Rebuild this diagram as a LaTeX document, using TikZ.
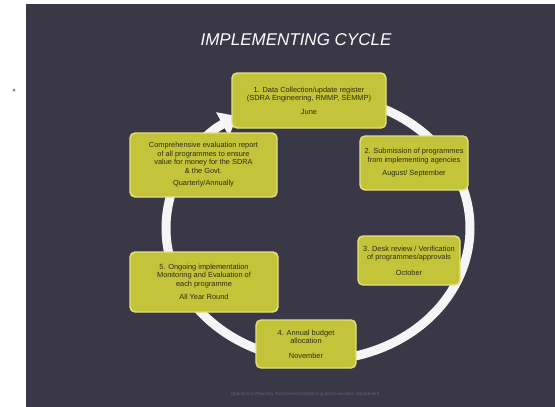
\documentclass[tikz,border=0pt]{standalone}
\usepackage{fontspec}
\setmainfont{Liberation Sans}
\usetikzlibrary{arrows.meta}
\definecolor{slidebg}{RGB}{58,56,70}
\definecolor{boxfill}{RGB}{196,196,58}
\definecolor{boxedge}{RGB}{226,226,130}
\definecolor{boxtext}{RGB}{45,44,15}
\definecolor{foot}{RGB}{100,96,112}
\tikzset{
  stagebox/.style={draw=boxedge, line width=1.4pt, fill=boxfill, rounded corners=5pt,
    text=boxtext, font=\fontsize{7.4}{8.5}\selectfont, align=center, inner sep=2pt},
  ring/.style={draw=white!92!gray, line width=9pt},
}
\begin{document}
\begin{tikzpicture}[x=1pt,y=-1pt]
\useasboundingbox (0,0) rectangle (555,407);
\fill[white] (0,0) rectangle (555,407);
\fill[slidebg] (26,4) rectangle (555,407);
\fill[gray] (14,90) circle (1.5);
\node[text=white, font=\fontsize{17}{17}\selectfont\itshape] (title) at (296,40) {IMPLEMENTING CYCLE};
% ring
\draw[ring, -{Triangle[width=26pt,length=17pt]}]
  (318,228) ++(-85:152 and 132) arc[start angle=-85, end angle=238, x radius=152, y radius=132];
% boxes
\node[stagebox, minimum width=154pt, minimum height=55pt] (s1) at (309,100.5)
  {1. Data Collection/update register\\(SDRA Engineering, RMMP, SEMMP)\\[5pt]June};
\node[stagebox, minimum width=108pt, minimum height=54pt] (s2) at (414,163)
  {2. Submission of programmes\\from implementing agencies\\[5pt]August/ September};
\node[stagebox, minimum width=102pt, minimum height=49pt] (s3) at (409,260.5)
  {3. Desk review / Verification\\of programmes/approvals\\[7pt]October};
\node[stagebox, minimum width=100pt, minimum height=48pt] (s4) at (306,344)
  {4. Annual budget\\allocation\\[6pt]November};
\node[stagebox, minimum width=148pt, minimum height=60pt] (s5) at (204,282)
  {5. Ongoing implementation\\Monitoring and Evaluation of\\each programme\\[5pt]All Year Round};
\node[stagebox, minimum width=147pt, minimum height=64pt] (s6) at (203.5,165)
  {Comprehensive evaluation report\\of all programmes to ensure\\value for money for the SDRA\\\& the Govt.\\[4pt]Quarterly/Annually};
\node[text=foot, font=\fontsize{4.5}{5}\selectfont] (footer) at (305,394)
  {Operational Planning, Performance Monitoring and Evaluation Department};
\end{tikzpicture}
\end{document}
